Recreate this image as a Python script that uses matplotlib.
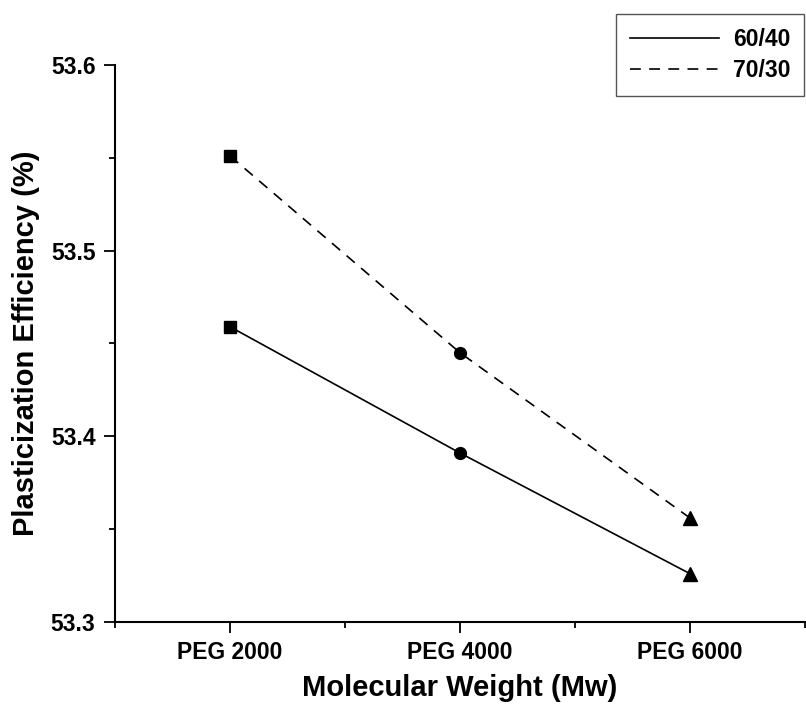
import matplotlib
matplotlib.use("Agg")
import matplotlib.pyplot as plt
from matplotlib.lines import Line2D
from matplotlib.ticker import MultipleLocator, FixedLocator

plt.rcParams["font.family"] = ["Liberation Sans", "DejaVu Sans"]
plt.rcParams["font.weight"] = "bold"

# data
categories = ["PEG 2000", "PEG 4000", "PEG 6000"]
series_names = ["60/40", "70/30"]
eff_60_40 = [53.459, 53.391, 53.326]
eff_70_30 = [53.551, 53.445, 53.356]
point_markers = ["s", "o", "^"]

x = [1, 2, 3]
dash = (6.5, 5)

fig = plt.figure(figsize=(8.06, 7.06), dpi=100)
ax = fig.add_axes([0.1427, 0.119, 0.8561, 0.789])

styles = ["-", "--"]
for vals, ls in zip([eff_60_40, eff_70_30], styles):
    ax.plot(x, vals, color="black", linestyle=ls, linewidth=1.2,
            dashes=dash if ls == "--" else (None, None))
    for xi, yi, m in zip(x, vals, point_markers):
        ms = 9.5 if m == "^" else 8.5
        ax.plot(xi, yi, marker=m, color="black", markersize=ms, linestyle="none")

ax.set_xlim(0.5, 3.5)
ax.set_ylim(53.3, 53.6)
ax.set_xticks(x)
ax.set_xticklabels(categories)
ax.xaxis.set_minor_locator(FixedLocator([0.5, 1.5, 2.5, 3.5]))
ax.yaxis.set_major_locator(MultipleLocator(0.1))
ax.yaxis.set_minor_locator(MultipleLocator(0.05))
ax.yaxis.set_major_formatter(matplotlib.ticker.FormatStrFormatter("%.1f"))

ax.spines["top"].set_visible(False)
ax.spines["right"].set_visible(False)
for s in ["left", "bottom"]:
    ax.spines[s].set_linewidth(1.5)
ax.tick_params(which="major", direction="out", length=8, width=1.3, labelsize=16.5, pad=6)
ax.tick_params(which="minor", direction="out", length=4, width=1.3)

ax.set_xlabel("Molecular Weight (Mw)", fontsize=21, fontweight="bold", labelpad=7)
ax.set_ylabel("Plasticization Efficiency (%)", fontsize=21, fontweight="bold", labelpad=8)

handles = [Line2D([], [], color="black", linestyle="-", linewidth=1.2),
           Line2D([], [], color="black", linestyle="--", linewidth=1.2, dashes=dash)]
leg = fig.legend(handles, series_names, loc="upper left",
                 bbox_to_anchor=(616 / 806, 1 - 14 / 706), borderaxespad=0,
                 handlelength=3.9, handletextpad=0.6, borderpad=0.6,
                 labelspacing=0.35, fancybox=False, framealpha=1,
                 edgecolor="#555555", prop={"weight": "bold", "size": 16.5})
leg.get_frame().set_linewidth(1.0)

fig.savefig("out.png", dpi=100)
